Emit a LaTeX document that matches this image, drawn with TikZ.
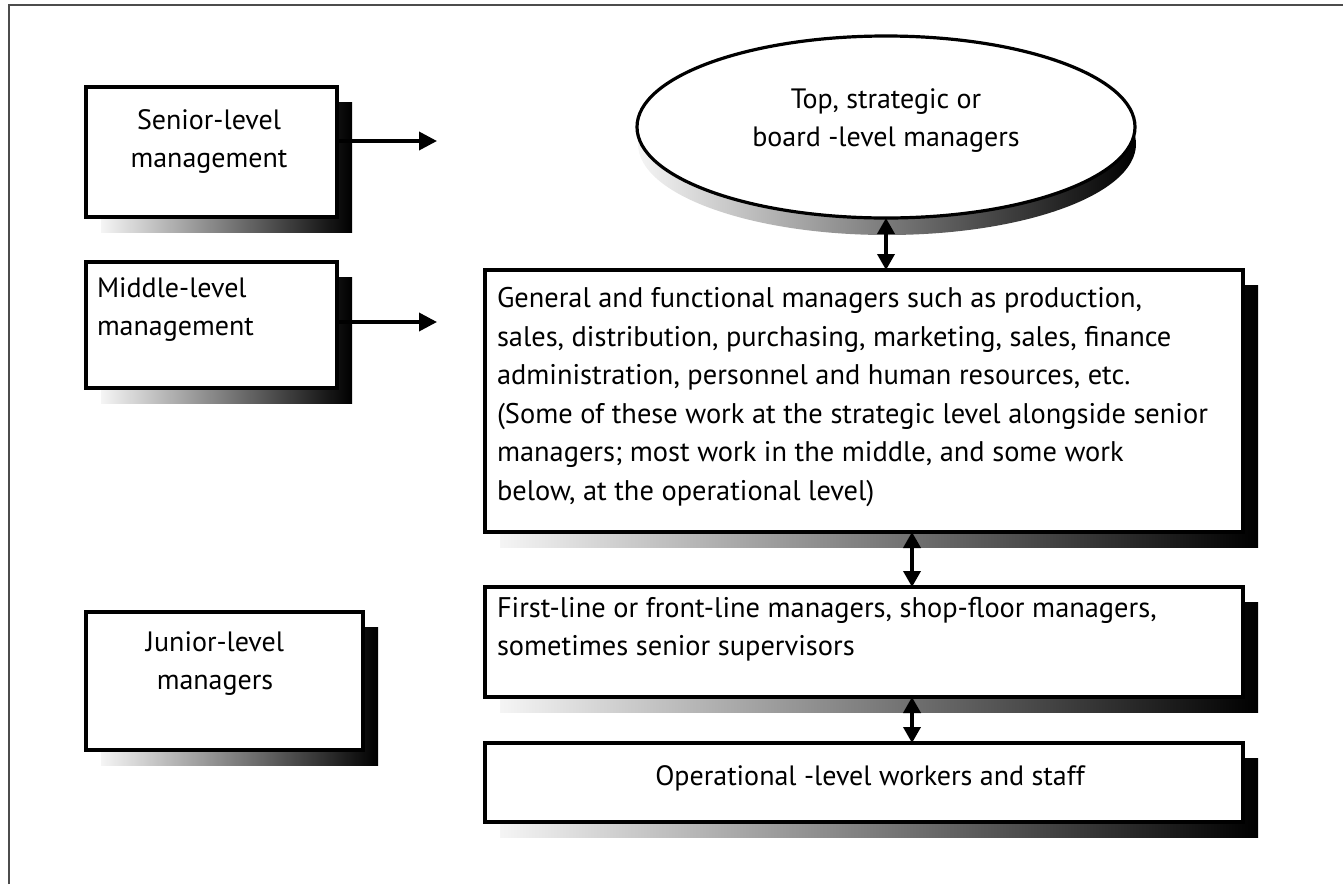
\documentclass[tikz,border=0pt]{standalone}
\usepackage{fontspec}
\setmainfont{PT Sans}
\usetikzlibrary{arrows.meta,shapes.geometric,shadows}
\begin{document}
\begin{tikzpicture}[x=1pt,y=-1pt,
  every node/.style={inner sep=0pt, outer sep=0pt},
  txt/.style={font=\fontsize{28}{38}\selectfont, align=center},
  ltxt/.style={font=\fontsize{28.4}{38.5}\selectfont, align=left, anchor=west},
  boxshade/.style={general shadow={shadow xshift=15pt, shadow yshift=-15pt,
      left color=gray!8, right color=black}},
  panel/.style={draw, line width=3.2pt, fill=white, boxshade},
  disc/.style={ellipse, draw, line width=3.2pt, fill=white,
      general shadow={shadow xshift=1pt, shadow yshift=-17pt,
      left color=gray!8, right color=black}},
  arr/.style={line width=3.6pt, -{Triangle[length=18pt,width=18pt]}},
  darr/.style={line width=3.6pt,
      {Triangle[length=16pt,width=17pt]}-{Triangle[length=16pt,width=17pt]}},
  framepart/.style={draw=gray!60!black, line width=1.5pt},
]
\useasboundingbox (0,0) rectangle (1343,884);

% outer frame (top and left edges)
\draw[framepart] (9,884) -- (9,5) -- (1343,5);

% left-hand level labels
\node[panel, minimum width=251pt, minimum height=130pt] (senior) at (211.5,152) {};
\node[txt] (seniorT) at (209,141) {Senior-level\\management};

\node[panel, minimum width=251pt, minimum height=126pt] (middle) at (211.5,325) {};
\node[ltxt, font=\fontsize{28}{38}\selectfont] (middleT) at (97,310) {Middle-level\\management};

\node[panel, minimum width=277pt, minimum height=138pt] (junior) at (224.5,681) {};
\node[txt] (juniorT) at (215,664) {Junior-level\\managers};

% right-hand hierarchy
\node[disc, minimum width=498pt, minimum height=182pt] (top) at (886,127) {};
\node[txt] (topT) at (886,121) {Top, strategic or\\board -level managers};

\node[panel, minimum width=758pt, minimum height=262pt] (gen) at (864,401) {};
\node[ltxt] (genT) at (497,397) {General and functional managers such as production,\\
sales, distribution, purchasing, marketing, sales, finance\\
administration, personnel and human resources, etc.\\
(Some of these work at the strategic level alongside senior\\
managers; most work in the middle, and some work\\
below, at the operational level)};

\node[panel, minimum width=758pt, minimum height=110pt] (first) at (864,642) {};
\node[ltxt] (firstT) at (497,629) {First-line or front-line managers, shop-floor managers,\\
sometimes senior supervisors};

\node[panel, minimum width=758pt, minimum height=79pt] (ops) at (864,782.5) {};
\node[txt] (opsT) at (870,778) {Operational -level workers and staff};

% connectors
\coordinate (tipA) at (437,141);
\coordinate (tipB) at (437,322);
\coordinate (lane) at (912,0);
\draw[arr] (senior.east |- tipA) -- (tipA);
\draw[arr] (middle.east |- tipB) -- (tipB);
\draw[darr] (top.south) -- (top.south |- gen.north);
\draw[darr] (gen.south -| lane) -- (first.north -| lane);
\draw[darr] (first.south -| lane) -- (ops.north -| lane);
\end{tikzpicture}
\end{document}
